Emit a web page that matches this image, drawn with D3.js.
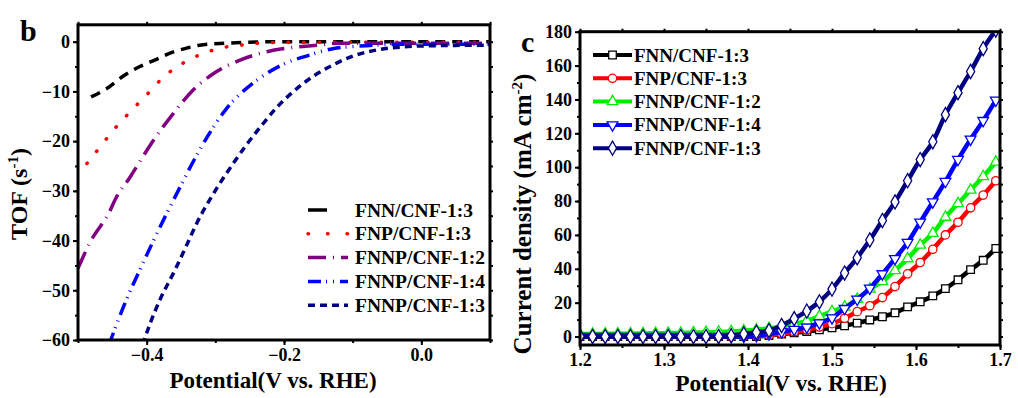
<!DOCTYPE html>
<html>
<head>
<meta charset="utf-8">
<script src="https://cdn.jsdelivr.net/npm/d3@7"></script>
<style>
  body { margin: 0; background: #fff; }
  svg { font-family: "Liberation Serif", "Times New Roman", serif; font-weight: bold; }
</style>
</head>
<body>
<div id="chart"></div>
<script>
// ---- panel b : TOF vs potential ----
const tofNames = ['FNN/CNF-1:3', 'FNP/CNF-1:3', 'FNNP/CNF-1:2', 'FNNP/CNF-1:4', 'FNNP/CNF-1:3']
const tofColors = ['#000000', '#ff0000', '#800080', '#0000ff', '#000080']
const tofDash = ['10,7', '0.5,15', '18,7,1,7', '13,5,1,6,1,6', '7,5']

const fnnV = [-0.481, -0.458, -0.434, -0.41, -0.385, -0.366, -0.342, -0.323, -0.284, -0.25, -0.2, -0.1, 0, 0.1]
const fnnTof = [-11.1, -9.4, -6.9, -5.0, -3.5, -2.3, -1.3, -0.7, -0.3, -0.1, 0, 0, 0, 0]
const fnpV = [-0.487, -0.468, -0.446, -0.424, -0.40, -0.376, -0.347, -0.32, -0.293, -0.264, -0.225, -0.15, -0.05, 0.1]
const fnpTof = [-24.5, -21.2, -17.4, -14.1, -10.7, -7.2, -4.3, -2.5, -1.3, -0.7, -0.2, -0.1, -0.1, -0.1]
const fnnp12V = [-0.5, -0.483, -0.453, -0.446, -0.424, -0.39, -0.361, -0.333, -0.298, -0.264, -0.231, -0.196, -0.152, -0.119, -0.05, 0.1]
const fnnp12Tof = [-45.6, -40.5, -33.9, -31.8, -27.2, -19.8, -14.4, -9.8, -6.0, -3.7, -2.2, -1.3, -0.7, -0.3, -0.3, -0.3]
const fnnp14V = [-0.455, -0.434, -0.405, -0.371, -0.356, -0.323, -0.284, -0.24, -0.202, -0.163, -0.129, -0.08, -0.03, 0.1]
const fnnp14Tof = [-61, -53.4, -44.4, -34.6, -30.5, -21.8, -13.5, -7.8, -4.6, -2.7, -1.4, -0.8, -0.5, -0.5]
const fnnp13V = [-0.406, -0.395, -0.381, -0.359, -0.344, -0.327, -0.298, -0.274, -0.255, -0.23, -0.211, -0.187, -0.158, -0.129, -0.1, -0.07, -0.032, 0.017, 0.1]
const fnnp13Tof = [-61, -56.7, -52, -46, -41.6, -36.5, -29.5, -24.5, -20.8, -16.4, -13.3, -10.1, -7.0, -4.7, -2.9, -1.8, -1.1, -0.8, -0.7]

const tofXTicks = [-0.4, -0.2, 0.0]
const tofYTicks = [0, -10, -20, -30, -40, -50, -60]

// ---- panel c : current density vs potential ----
const ldsNames = ['FNN/CNF-1:3', 'FNP/CNF-1:3', 'FNNP/CNF-1:2', 'FNNP/CNF-1:4', 'FNNP/CNF-1:3']
const ldsColors = ['#000000', '#ff0000', '#00ee00', '#0000ff', '#000080']
const ldsSymbols = [d3.symbolSquare, d3.symbolCircle, d3.symbolTriangle, 'down', d3.symbolDiamond]

const potential = [1.200, 1.215, 1.230, 1.245, 1.260, 1.275, 1.290, 1.305, 1.320, 1.335, 1.350, 1.365,
  1.380, 1.395, 1.410, 1.425, 1.440, 1.455, 1.470, 1.485, 1.500, 1.515, 1.530, 1.545, 1.560, 1.575,
  1.590, 1.605, 1.620, 1.635, 1.650, 1.665, 1.680, 1.695]
const jFNN = [0, 0, 0, 0, 0, 0, 0, 0, 0, 0, 0, 0, 0, 0, 0,
  0.6, 1.4, 2.2, 3.0, 4.0, 5.2, 6.3, 7.9, 9.8, 11.7, 14, 17.5, 20.5, 24, 28.3, 33.5, 39.5, 45, 52]
const jFNP = [0, 0, 0, 0, 0, 0, 0, 0, 0, 0, 0, 0, 0, 0, 0.3,
  0.8, 1.8, 2.8, 4, 5.6, 7.6, 10.8, 14.7, 18.2, 23, 29.5, 37, 43.7, 51.5, 60, 67.5, 76, 83.5, 92]
const jFNNP12 = [1.5, 1.5, 1.6, 1.6, 1.7, 1.8, 1.9, 2.0, 2.1, 2.3, 2.5, 2.7, 3.0, 3.4, 4.0,
  4.8, 6, 7.5, 9.3, 12, 14.8, 17.5, 22, 28, 32.5, 39, 46, 54, 61, 70.5, 78.5, 86.5, 94.5, 103]
const jFNNP14 = [0, 0, 0, 0, 0, 0, 0, 0, 0, 0, 0, 0, 0, 0,
  0.5, 1.5, 2.8, 4.2, 5.5, 8, 11, 16.5, 22, 28.5, 37, 46, 55.5, 67.5, 79.5, 91.5, 104.5, 116.5, 127.5, 139.5]
const jFNNP13 = [0, 0, 0, 0, 0, 0, 0, 0, 0, 0, 0, 0,
  0.5, 1.5, 2.5, 3.5, 6.5, 10.5, 15, 20.5, 28, 37.5, 46.5, 57, 68.5, 79.5, 92, 104.5, 115, 131, 144, 156.5, 170, 181]

const ldsXTicks = [1.2, 1.3, 1.4, 1.5, 1.6, 1.7]
const ldsYTicks = [0, 20, 40, 60, 80, 100, 120, 140, 160, 180]

const svg = d3.select('#chart').append('svg')
  .attr('width', 1018)
  .attr('height', 398)

// frame + axes helper
function drawAxes (g, x, y, xTicks, yTicks, xMinor, yMinor, xFmt) {
  const [x0, x1] = x.range()
  const [y0, y1] = y.range()
  const tickStyle = sel => {
    sel.select('.domain').remove()
    sel.selectAll('line').attr('stroke', '#000').attr('stroke-width', 2)
    sel.selectAll('text').attr('font-size', 18).attr('fill', '#000')
      .attr('font-family', '"Liberation Serif", serif').attr('font-weight', 'bold')
  }
  const minorStyle = sel => {
    tickStyle(sel)
    sel.selectAll('text').remove()
  }
  g.append('g').attr('transform', `translate(0,${y0})`)
    .call(d3.axisBottom(x).tickValues(xMinor).tickSize(3)).call(minorStyle)
  g.append('g').attr('transform', `translate(0,${y0})`)
    .call(d3.axisBottom(x).tickValues(xTicks).tickSize(5).tickPadding(3).tickFormat(xFmt)).call(tickStyle)
  g.append('g').attr('transform', `translate(${x0},0)`)
    .call(d3.axisLeft(y).tickValues(yMinor).tickSize(3)).call(minorStyle)
  g.append('g').attr('transform', `translate(${x0},0)`)
    .call(d3.axisLeft(y).tickValues(yTicks).tickSize(5).tickPadding(3).tickFormat(d3.format('d'))).call(tickStyle)
  g.append('g').attr('transform', `translate(${x1},0)`)
    .call(d3.axisRight(y).tickValues(yMinor).tickSize(3)).call(minorStyle)
  g.append('g').attr('transform', `translate(0,${y1})`)
    .call(d3.axisTop(x).tickValues(xMinor).tickSize(3)).call(minorStyle)
  g.append('rect')
    .attr('x', x0).attr('y', y1)
    .attr('width', x1 - x0).attr('height', y0 - y1)
    .attr('fill', 'none').attr('stroke', '#000').attr('stroke-width', 3)
}

// ===== panel b =====
const xb = d3.scaleLinear().domain([-0.5, 0.1]).range([78, 490])
const yb = d3.scaleLinear().domain([-60, 3.4]).range([340, 24.8])

svg.append('clipPath').attr('id', 'clipB').append('rect')
  .attr('x', 78).attr('y', 24.8).attr('width', 412).attr('height', 315.2)

const tofSeries = [
  [fnnV, fnnTof], [fnpV, fnpTof], [fnnp12V, fnnp12Tof], [fnnp14V, fnnp14Tof], [fnnp13V, fnnp13Tof]
]
const lineB = d3.line().x(d => xb(d[0])).y(d => yb(d[1])).curve(d3.curveMonotoneX)
const gb = svg.append('g')
gb.append('g').attr('clip-path', 'url(#clipB)')
  .selectAll('path')
  .data(tofSeries)
  .enter().append('path')
  .attr('d', s => lineB(s[0].map((v, i) => [v, s[1][i]])))
  .attr('fill', 'none')
  .attr('stroke', (d, i) => tofColors[i])
  .attr('stroke-width', 3.5)
  .attr('stroke-linecap', (d, i) => i === 1 ? 'round' : 'butt')
  .attr('stroke-dasharray', (d, i) => tofDash[i])

drawAxes(gb, xb, yb, tofXTicks, tofYTicks,
  [-0.5, -0.4, -0.3, -0.2, -0.1, 0, 0.1],
  [0, -5, -10, -15, -20, -25, -30, -35, -40, -45, -50, -55, -60],
  d3.format('.1f'))

// legend b
const legB = gb.selectAll('.legB')
  .data(tofNames)
  .enter().append('g')
  .attr('transform', (d, i) => `translate(308,${210 + i * 23.8})`)
legB.append('line')
  .attr('x1', 0).attr('x2', 40).attr('y1', 0).attr('y2', 0)
  .attr('stroke', (d, i) => tofColors[i])
  .attr('stroke-width', 3.5)
  .attr('stroke-linecap', (d, i) => i === 1 ? 'round' : 'butt')
  .attr('stroke-dasharray', (d, i) => i === 1 ? '0.5,19' : i === 0 ? '19,40' : tofDash[i])
legB.append('text')
  .attr('x', 47).attr('y', 6.5)
  .attr('font-size', 19.5)
  .text(d => d)

gb.append('text').attr('x', 20).attr('y', 41).attr('font-size', 30).text('b')
gb.append('text')
  .attr('x', 273).attr('y', 388)
  .attr('text-anchor', 'middle')
  .attr('font-size', 23)
  .text('Potential(V vs. RHE)')
const yTitleB = gb.append('text')
  .attr('transform', 'translate(27,194) rotate(-90)')
  .attr('text-anchor', 'middle')
  .attr('font-size', 24)
yTitleB.append('tspan').text('TOF (s')
yTitleB.append('tspan').attr('font-size', 15).attr('dy', -9).text('-1')
yTitleB.append('tspan').attr('dy', 9).text(')')

// ===== panel c =====
const xc = d3.scaleLinear().domain([1.2, 1.7]).range([580, 1000])
const yc = d3.scaleLinear().domain([-5, 180]).range([345, 31.7])

svg.append('clipPath').attr('id', 'clipC').append('rect')
  .attr('x', 580).attr('y', 31).attr('width', 420).attr('height', 314)

const ldsSeries = [jFNN, jFNP, jFNNP12, jFNNP14, jFNNP13]
const lineC = d3.line().x((d, i) => xc(potential[i])).y(d => yc(d)).curve(d3.curveMonotoneX)

function symbolPath (i, size) {
  if (ldsSymbols[i] === 'down') return d3.symbol(d3.symbolTriangle, size)()
  return d3.symbol(ldsSymbols[i], size)()
}
const symSize = [58, 55, 50, 50, 58]

const gc = svg.append('g')
const plotC = gc.append('g').attr('clip-path', 'url(#clipC)')
const serC = plotC.selectAll('.ser')
  .data(ldsSeries)
  .enter().append('g')
serC.append('path')
  .attr('d', d => lineC(d))
  .attr('fill', 'none')
  .attr('stroke', (d, i) => ldsColors[i])
  .attr('stroke-width', 4.5)
serC.each(function (d, si) {
  d3.select(this).selectAll('path.m')
    .data(d)
    .enter().append('path')
    .attr('class', 'm')
    .attr('d', symbolPath(si, symSize[si]))
    .attr('transform', (v, i) => `translate(${xc(potential[i])},${yc(v)})` + (ldsSymbols[si] === 'down' ? ' rotate(180)' : ''))
    .attr('fill', '#fff')
    .attr('stroke', ldsColors[si])
    .attr('stroke-width', 1.3)
})

drawAxes(gc, xc, yc, ldsXTicks, ldsYTicks,
  [1.2, 1.25, 1.3, 1.35, 1.4, 1.45, 1.5, 1.55, 1.6, 1.65, 1.7],
  [0, 10, 20, 30, 40, 50, 60, 70, 80, 90, 100, 110, 120, 130, 140, 150, 160, 170, 180],
  d3.format('.1f'))

// legend c
const legC = gc.selectAll('.legC')
  .data(ldsNames)
  .enter().append('g')
  .attr('transform', (d, i) => `translate(593,${55 + i * 23.3})`)
legC.append('line')
  .attr('x1', 0).attr('x2', 39).attr('y1', 0).attr('y2', 0)
  .attr('stroke', (d, i) => ldsColors[i])
  .attr('stroke-width', 4)
legC.append('path')
  .attr('d', (d, i) => symbolPath(i, symSize[i]))
  .attr('transform', (d, i) => 'translate(19.5,0)' + (ldsSymbols[i] === 'down' ? ' rotate(180)' : ''))
  .attr('fill', '#fff')
  .attr('stroke', (d, i) => ldsColors[i])
  .attr('stroke-width', 1.3)
legC.append('text')
  .attr('x', 41).attr('y', 6.5)
  .attr('font-size', 19)
  .text(d => d)

gc.append('text').attr('x', 521).attr('y', 52).attr('font-size', 30).text('c')
gc.append('text')
  .attr('x', 781).attr('y', 391)
  .attr('text-anchor', 'middle')
  .attr('font-size', 23.5)
  .text('Potential(V vs. RHE)')
const yTitleC = gc.append('text')
  .attr('transform', 'translate(531,214) rotate(-90)')
  .attr('text-anchor', 'middle')
  .attr('font-size', 25)
yTitleC.append('tspan').text('Current density (mA cm')
yTitleC.append('tspan').attr('font-size', 15).attr('dy', -9).text('-2')
yTitleC.append('tspan').attr('dy', 9).text(')')
</script>
</body>
</html>
